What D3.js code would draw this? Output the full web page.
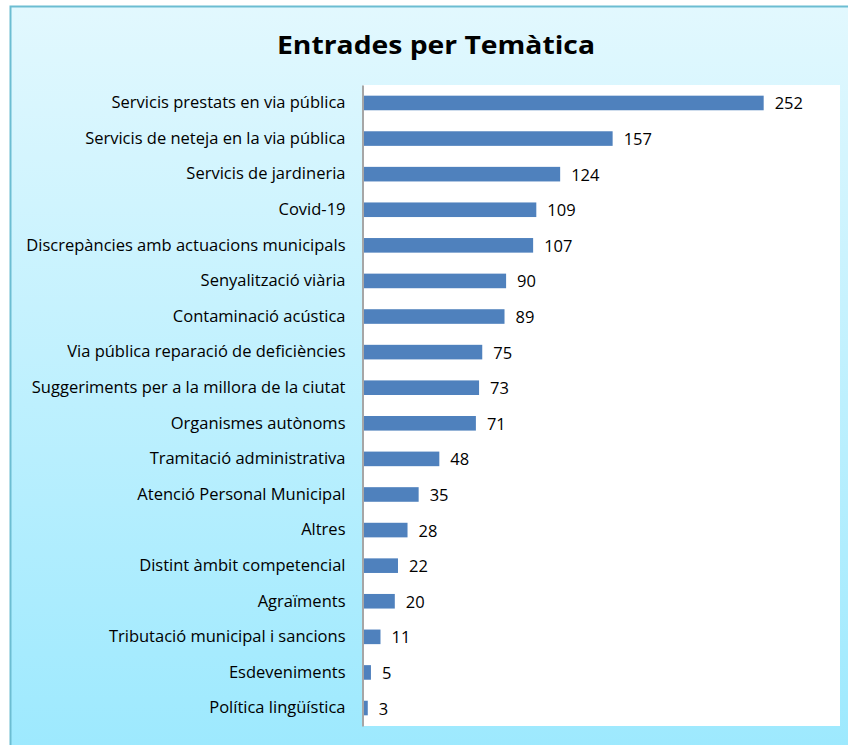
<!DOCTYPE html>
<html>
<head>
<meta charset="utf-8">
<script src="https://cdn.jsdelivr.net/npm/d3@7"></script>
<style>
  html, body { margin: 0; padding: 0; background: #fff; }
  svg { display: block; }
</style>
</head>
<body>
<div id="chart"></div>
<script>
const title = 'Entrades per Temàtica';
const categories = [
    'Servicis prestats en via pública',
    'Servicis de neteja en la via pública',
    'Servicis de jardineria',
    'Covid-19',
    'Discrepàncies amb actuacions municipals',
    'Senyalització viària',
    'Contaminació acústica',
    'Via pública reparació de deficiències',
    'Suggeriments per a la millora de la ciutat',
    'Organismes autònoms',
    'Tramitació administrativa',
    'Atenció Personal Municipal',
    'Altres',
    'Distint àmbit competencial',
    'Agraïments',
    'Tributació municipal i sancions',
    'Esdeveniments',
    'Política lingüística'
];
const values = [252, 157, 124, 109, 107, 90, 89, 75, 73, 71, 48, 35, 28, 22, 20, 11, 5, 3];
const xMax = 300;

const width = 848, height = 745;
const plot = { left: 363, right: 840, top: 85, bottom: 726 };
const font = '"Open Sans", "Noto Sans", sans-serif';

const svg = d3.select('#chart').append('svg')
    .attr('width', width)
    .attr('height', height);

// fons degradat
const grad = svg.append('defs').append('linearGradient')
    .attr('id', 'bg')
    .attr('x1', 0).attr('y1', 0).attr('x2', 0).attr('y2', 1);
grad.append('stop').attr('offset', '0%').attr('stop-color', '#e2f8fe');
grad.append('stop').attr('offset', '100%').attr('stop-color', '#9de9fe');

svg.append('rect')
    .attr('x', 10.5).attr('y', 6.5)
    .attr('width', width).attr('height', height)
    .attr('fill', 'url(#bg)')
    .attr('stroke', '#6cbdd2')
    .attr('stroke-width', 2);

svg.append('rect')
    .attr('x', plot.left).attr('y', plot.top)
    .attr('width', plot.right - plot.left)
    .attr('height', plot.bottom - plot.top)
    .attr('fill', '#fff');

svg.append('text')
    .attr('x', 436).attr('y', 54)
    .attr('text-anchor', 'middle')
    .attr('font-family', font)
    .attr('font-weight', 'bold')
    .attr('font-size', 25)
    .attr('textLength', 318)
    .attr('lengthAdjust', 'spacingAndGlyphs')
    .text(title);

const x = d3.scaleLinear().domain([0, xMax]).range([plot.left, plot.right]);
const y = d3.scaleBand().domain(categories).range([plot.top, plot.bottom]).paddingInner(0.59).paddingOuter(0.3);

svg.append('g')
    .selectAll('rect')
    .data(values)
    .join('rect')
    .attr('x', x(0))
    .attr('y', (d, i) => y(categories[i]))
    .attr('width', d => x(d) - x(0))
    .attr('height', y.bandwidth())
    .attr('fill', '#4f81bd');

svg.append('g')
    .selectAll('text')
    .data(values)
    .join('text')
    .attr('x', d => x(d) + 11)
    .attr('y', (d, i) => y(categories[i]) + y.bandwidth() / 2 + 6.5)
    .attr('font-family', font)
    .attr('font-size', 16.5)
    .text(d => d);

const yAxis = svg.append('g')
    .attr('transform', `translate(${plot.left - 0.5},0)`)
    .call(d3.axisLeft(y).tickSize(0).tickPadding(17));
yAxis.select('.domain').attr('stroke', '#a6a6a6').attr('stroke-width', 2);
yAxis.selectAll('text')
    .attr('font-family', font)
    .attr('font-size', 16.5)
    .attr('fill', '#000');
</script>
</body>
</html>
